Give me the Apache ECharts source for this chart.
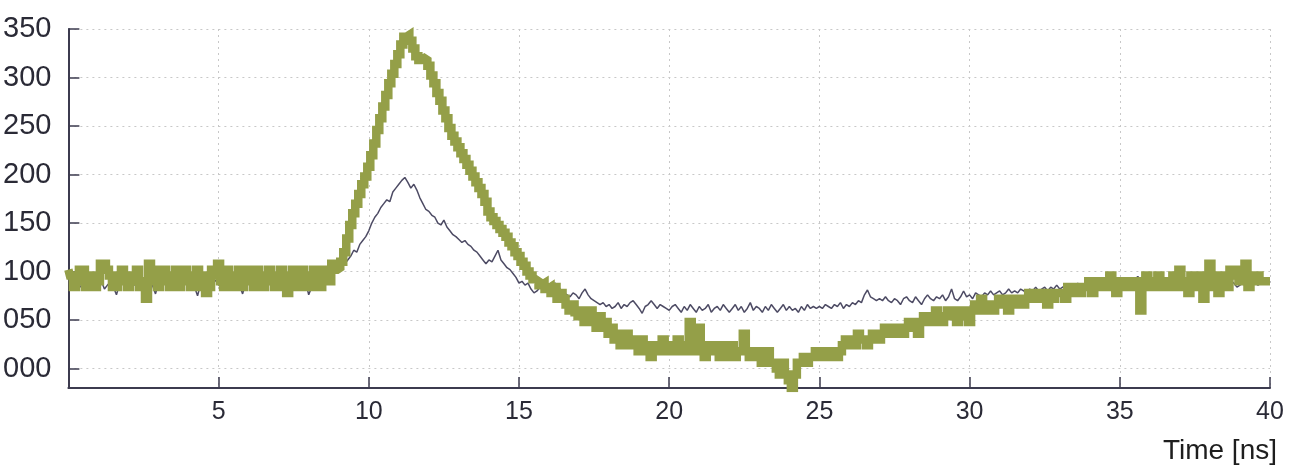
<!DOCTYPE html>
<html>
<head>
<meta charset="utf-8">
<script src="https://cdn.jsdelivr.net/npm/echarts@6/dist/echarts.min.js"></script>
<style>
html,body{margin:0;padding:0;background:#fff;}
#chart{width:1294px;height:475px;}
</style>
</head>
<body>
<div id="chart"></div>
<script>
// Thick olive trace (stepped): one value every 0.1 ns, from 0.0 to 40.0
var greenStep = 0.1;
var greenValues = [
  // 0.0 - 8.9
  102,96,84,90,102,102,84,90,96,84,
  90,108,108,102,96,84,84,96,102,90,
  84,96,90,102,84,90,72,108,102,90,
  84,102,102,90,84,96,102,84,90,102,
  96,84,90,102,84,96,78,84,102,96,
  108,90,84,102,96,84,90,102,84,96,
  102,90,84,102,96,84,90,102,96,84,
  90,102,84,78,96,102,84,90,102,84,
  96,84,102,90,84,102,96,90,108,102,
  // 9.0 - 11.4
  104,110,120,134,148,160,170,180,190,198,
  208,220,232,246,258,270,282,294,304,314,
  324,334,342,344,338,
  // 11.5 - 19.9
  330,322,318,320,318,
  312,302,294,284,276,266,258,248,240,234,
  228,222,216,210,204,198,192,186,180,172,
  162,156,152,148,144,140,136,130,126,120,
  116,110,106,100,96,92,90,86,88,82,
  84,78,84,72,78,72,66,60,66,58,
  54,60,48,54,60,48,42,54,42,48,
  36,42,30,36,24,30,36,24,30,24,
  18,30,24,18,12,24,24,18,30,18,
  // 20.0 - 27.0
  24,18,24,30,18,24,18,48,30,18,
  42,24,12,24,24,18,24,12,24,18,
  12,24,12,18,18,36,18,12,18,12,
  18,6,12,18,6,6,0,-6,6,-6,
  -12,-20,-6,6,6,12,6,12,12,18,
  12,18,12,12,18,18,12,18,24,30,
  24,30,24,36,30,30,24,30,36,30,
  30,
  // 27.1 - 40.0
  36,42,36,42,42,36,42,36,42,48,
  42,48,36,48,54,48,54,48,60,54,
  48,54,60,54,60,48,60,54,60,48,
  60,66,60,72,66,60,66,60,66,72,
  66,72,60,66,72,66,72,66,72,78,
  72,78,72,78,72,66,78,72,78,78,
  78,72,84,78,84,78,78,84,84,90,
  78,84,90,84,90,84,96,84,78,90,
  84,90,84,90,84,90,60,90,96,84,
  90,84,96,84,90,90,84,96,84,102,
  84,90,78,96,90,84,96,72,90,108,
  84,96,78,90,96,84,102,96,102,90,
  96,108,84,96,90,96,90,90,90,90
];

// Thin dark trace: one value every 0.1 ns, from 0.0 to 40.0
var darkStep = 0.1;
var darkValues = [
  // 0.0 - 8.9
  92,88,86,90,84,88,86,91,87,85,
  88,90,82,86,89,84,76,87,91,86,
  84,88,86,90,85,88,84,92,86,77,
  88,86,90,84,87,89,85,88,86,90,
  85,88,84,75,87,90,86,84,88,91,
  86,88,84,90,87,85,89,86,77,88,
  87,90,85,88,84,86,90,87,85,88,
  86,89,78,87,90,86,88,85,87,89,
  76,84,88,86,90,88,92,94,97,100,
  // 9.0 - 19.9
  102,104,108,112,116,122,120,128,132,136,
  142,150,156,160,166,170,174,172,182,186,
  190,194,197,192,186,190,184,176,170,164,
  162,158,156,150,148,153,146,142,138,136,
  133,130,132,128,126,122,120,116,112,108,
  112,110,116,122,112,108,104,102,98,94,
  88,90,86,88,82,78,80,84,82,85,
  84,86,88,86,80,78,76,74,78,76,
  72,78,82,76,72,70,68,66,68,64,
  66,62,64,68,62,66,64,68,70,66,
  62,57,64,66,70,66,62,66,64,62,
  // 20.0 - 29.9
  60,64,66,62,58,64,60,66,62,58,
  64,60,62,66,58,62,64,60,66,62,
  58,62,66,60,64,58,62,68,60,64,
  62,58,64,60,66,62,58,62,66,60,
  64,60,62,58,64,60,66,62,64,62,
  64,62,66,64,62,66,64,68,62,66,
  64,68,66,70,68,76,81,74,72,70,
  72,70,74,70,68,72,70,66,72,74,
  70,68,74,70,66,72,76,72,70,74,
  72,76,70,74,82,72,70,74,80,74,
  // 30.0 - 40.0
  76,72,78,76,74,78,76,80,76,78,
  80,76,78,82,78,80,78,82,80,78,
  82,80,84,80,82,84,80,84,82,86,
  82,84,86,82,86,84,88,84,86,88,
  84,86,88,86,90,86,88,84,88,86,
  86,88,86,88,90,92,95,90,90,86,
  88,86,90,88,86,88,90,86,88,90,
  88,86,90,88,86,90,88,86,84,88,
  86,88,90,86,88,84,86,90,88,84,
  86,88,84,86,90,88,86,88,90,88,
  90
];

var yTicks = [0, 50, 100, 150, 200, 250, 300, 350];
var xName = 'Time [ns]';

function toPairs(vals, step) {
  var out = [];
  for (var i = 0; i < vals.length; i++) {
    out.push([+(i * step).toFixed(2), vals[i]]);
  }
  return out;
}

var axisColor = '#3c3b4f';
var textColor = '#2a2a36';
var chart = echarts.init(document.getElementById('chart'), null, {renderer: 'canvas'});
chart.setOption({
  animation: false,
  backgroundColor: '#ffffff',
  grid: {left: 66, right: 24, top: 29, bottom: 87, containLabel: false},
  xAxis: {
    type: 'value',
    min: 0, max: 40, interval: 5,
    axisLine: {show: true, onZero: false, lineStyle: {color: axisColor, width: 2}},
    axisTick: {show: true, inside: true, length: 11, lineStyle: {color: axisColor, width: 1.5}},
    axisLabel: {
      show: true, margin: 12, color: textColor,
      fontFamily: 'Liberation Sans', fontSize: 25,
      formatter: function (v) { return v === 0 ? '' : String(v); }
    },
    splitLine: {show: true, lineStyle: {color: '#c8c8c8', type: [2, 4], width: 1}}
  },
  yAxis: {
    type: 'value',
    min: -20, max: 350,
    axisLine: {show: true, onZero: false, lineStyle: {color: axisColor, width: 2}},
    axisTick: {show: true, inside: true, length: 11, customValues: yTicks, lineStyle: {color: axisColor, width: 1.5}},
    axisLabel: {
      show: true, margin: 17, color: textColor, customValues: yTicks,
      fontFamily: 'Liberation Sans', fontSize: 29,
      formatter: function (v) { var s = String(v); while (s.length < 3) s = '0' + s; return s; }
    },
    splitLine: {show: true, lineStyle: {color: '#c8c8c8', type: [2, 4], width: 1}}
  },
  graphic: [{
    type: 'text', right: 17, top: 437,
    style: {text: xName, fill: '#1e1e1e', font: '28px "Liberation Sans"'}
  }],
  series: [
    {
      type: 'line', name: 'thin', showSymbol: false, symbol: 'none',
      data: toPairs(darkValues, darkStep),
      lineStyle: {color: '#4d4b64', width: 1.5},
      z: 2
    },
    {
      type: 'line', name: 'thick', step: 'middle', showSymbol: false, symbol: 'none',
      data: toPairs(greenValues, greenStep),
      lineStyle: {color: '#949f48', width: 8.5, join: 'miter'},
      z: 3
    }
  ]
});
</script>
</body>
</html>
